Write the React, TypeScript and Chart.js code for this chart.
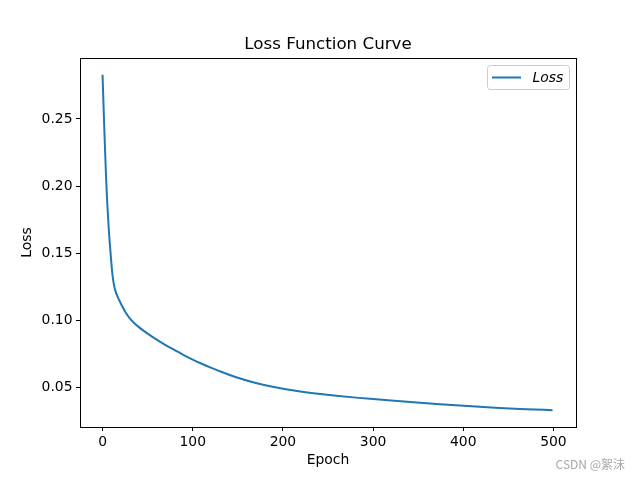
import React, { useEffect, useRef } from "react";
import { Chart, registerables } from "chart.js";

Chart.register(...registerables);

const epochs = [0, 1, 2, 3, 4, 5, 6, 7, 8, 9, 10, 11, 12, 13, 14, 15, 16, 17, 20, 23, 26, 30, 35, 40, 45, 50, 60, 70, 80, 90, 100, 110, 120, 133, 150, 170, 190, 207, 225, 244, 262, 281, 300, 320, 345, 374, 405, 440, 470, 499];
const losses = [0.283, 0.262, 0.242, 0.223, 0.205, 0.19, 0.178, 0.167, 0.1576, 0.149, 0.1408, 0.1338, 0.1288, 0.1252, 0.1225, 0.1203, 0.1185, 0.1169, 0.1127, 0.1088, 0.1052, 0.1015, 0.0978, 0.0949, 0.0923, 0.0899, 0.0854, 0.0813, 0.0776, 0.0739, 0.0705, 0.0674, 0.0645, 0.061, 0.0569, 0.053, 0.05, 0.048, 0.0462, 0.0446, 0.0433, 0.0421, 0.041, 0.0399, 0.0386, 0.0372, 0.0358, 0.0344, 0.0335, 0.0327];
const xTicks = [0, 100, 200, 300, 400, 500];
const yTicks = [0.05, 0.1, 0.15, 0.2, 0.25];
const titleText = "Loss Function Curve";
const xLabel = "Epoch";
const yLabel = "Loss";
const seriesName = "Loss";
const watermark = "CSDN @絮沫";

const LINE_COLOR = "#1f77b4";
const FONT = "'DejaVu Sans', sans-serif";

const overlay = {
  id: "overlay",
  afterDraw(chart: any) {
    const { ctx, chartArea: a } = chart;
    ctx.save();
    // axes frame
    ctx.strokeStyle = "#000";
    ctx.lineWidth = 1;
    ctx.strokeRect(a.left + 0.5, a.top + 0.5, a.right - a.left, a.bottom - a.top);
    // title
    ctx.fillStyle = "#000";
    ctx.font = `16.7px ${FONT}`;
    ctx.textAlign = "center";
    ctx.textBaseline = "alphabetic";
    ctx.fillText(titleText, (a.left + a.right) / 2, a.top - 9);
    // legend
    const bw = 82, bh = 24;
    const bx = a.right - 6.5 - bw, by = a.top + 7.5;
    ctx.beginPath();
    ctx.roundRect(bx, by, bw, bh, 3);
    ctx.fillStyle = "rgba(255,255,255,0.8)";
    ctx.fill();
    ctx.strokeStyle = "#cccccc";
    ctx.lineWidth = 1;
    ctx.stroke();
    ctx.beginPath();
    ctx.strokeStyle = LINE_COLOR;
    ctx.lineWidth = 2;
    ctx.moveTo(bx + 4.5, by + bh / 2);
    ctx.lineTo(bx + 33.5, by + bh / 2);
    ctx.stroke();
    ctx.fillStyle = "#000";
    ctx.font = `italic 13.9px ${FONT}`;
    ctx.textAlign = "left";
    ctx.textBaseline = "middle";
    ctx.fillText(seriesName, bx + 45, by + bh / 2 + 0.5);
    // watermark
    ctx.font = `12px 'Noto Sans CJK SC', 'Noto Sans', sans-serif`;
    ctx.fillStyle = "#a8a8a8";
    ctx.textAlign = "right";
    ctx.textBaseline = "alphabetic";
    ctx.fillText(watermark, 625, 469);
    ctx.restore();
  },
};

export default function App() {
  const ref = useRef<HTMLCanvasElement | null>(null);
  useEffect(() => {
    if (!ref.current) return;
    const minV = Math.min(...losses);
    const maxV = Math.max(...losses);
    const r = maxV - minV;
    const xr = 500;
    const chart = new Chart(ref.current, {
      type: "line",
      data: {
        datasets: [
          {
            label: seriesName,
            data: epochs.map((e, i) => ({ x: e, y: losses[i] })),
            borderColor: LINE_COLOR,
            borderWidth: 2,
            pointRadius: 0,
            fill: false,
            cubicInterpolationMode: "monotone",
          },
        ],
      },
      options: {
        responsive: false,
        animation: false,
        layout: { padding: { left: 0, right: 64, top: 58, bottom: 0 } },
        plugins: {
          legend: { display: false },
          title: { display: false },
          tooltip: { enabled: false },
        },
        scales: {
          x: {
            type: "linear",
            min: 0 - 0.05 * xr,
            max: 500 + 0.05 * xr,
            afterBuildTicks: (s: any) => {
              s.ticks = xTicks.map((v) => ({ value: v }));
            },
            afterFit: (s: any) => {
              s.height = 53;
            },
            ticks: {
              color: "#000",
              font: { family: FONT, size: 13.9 },
              padding: 3.5,
              maxRotation: 0,
              callback: (v: any) => String(v),
            },
            grid: { drawOnChartArea: false, drawTicks: true, tickLength: 4, color: "#000", lineWidth: 1 },
            border: { display: false },
            title: { display: true, text: xLabel, color: "#000", font: { family: FONT, size: 13.9 }, padding: { top: 0, bottom: 11 } },
          },
          y: {
            type: "linear",
            min: minV - 0.05 * r,
            max: maxV + 0.05 * r,
            afterBuildTicks: (s: any) => {
              s.ticks = yTicks.map((v) => ({ value: v }));
            },
            afterFit: (s: any) => {
              s.width = 80;
            },
            ticks: {
              color: "#000",
              font: { family: FONT, size: 13.9 },
              padding: 3.5,
              callback: (v: any) => Number(v).toFixed(2),
            },
            grid: { drawOnChartArea: false, drawTicks: true, tickLength: 4, color: "#000", lineWidth: 1 },
            border: { display: false },
            title: { display: true, text: yLabel, color: "#000", font: { family: FONT, size: 13.9 }, padding: { top: 19, bottom: 0 } },
          },
        },
      },
      plugins: [overlay],
    } as any);
    return () => chart.destroy();
  }, []);
  return (
    <div style={{ position: "fixed", left: 0, top: 0, width: 640, height: 480, background: "#fff" }}>
      <canvas ref={ref} width={640} height={480} style={{ display: "block" }} />
    </div>
  );
}
